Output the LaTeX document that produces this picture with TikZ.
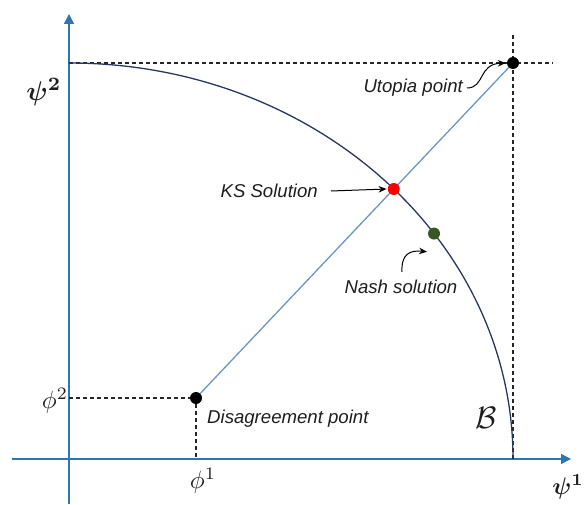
\documentclass[tikz,border=0pt]{standalone}
\usepackage{amsmath,bm,graphicx}
\usepackage{fontspec}
\setsansfont{Liberation Sans}
\usetikzlibrary{arrows.meta,intersections}
\definecolor{axisblue}{RGB}{46,117,182}
\definecolor{lineblue}{RGB}{105,150,195}
\definecolor{curvenavy}{RGB}{40,55,95}
\definecolor{nashgreen}{RGB}{56,87,35}
\definecolor{txt}{RGB}{30,30,30}
\tikzset{
  axisline/.style={draw=axisblue, line width=1.5pt, -{Triangle[length=10pt,width=10pt]}},
  dashline/.style={draw=black!85, line width=1.1pt, dash pattern=on 4pt off 3pt},
  bcurve/.style={draw=curvenavy, line width=1.3pt},
  diagline/.style={draw=lineblue, line width=1.3pt},
  dot/.style={circle, inner sep=0pt, minimum size=12pt},
  lab/.style={font=\sffamily\itshape\fontsize{18.6}{21}\selectfont, text=txt, inner sep=0pt},
  mlab/.style={text=txt, inner sep=0pt},
  pointer/.style={draw=black, line width=1pt, -{Stealth[length=8pt,width=6.5pt]}}
}
\begin{document}
\begin{tikzpicture}[x=1pt,y=1pt]
\useasboundingbox (0,0) rectangle (585,504);
% axes
\coordinate (O) at (69,45);
\coordinate (ytop) at (69,490);
\coordinate (ybot) at (69,0);
\coordinate (xleft) at (12,45);
\coordinate (xright) at (571,45);
\draw[axisline] (ybot) -- (ytop);
\draw[axisline] (xleft) -- (xright);
% key points
\coordinate (U) at (513,441);
\coordinate (D) at (196,106);
\coordinate (B2) at (69,441);
\coordinate (B1) at (513,45);
\coordinate (dtopend) at (553,441);
\coordinate (dvtop) at (513,469);
\coordinate (phi2) at (69,106);
\coordinate (phi1) at (196,45);
% dashed guide lines
\draw[dashline] (B2) -- (dtopend);
\draw[dashline] (dvtop) -- (B1);
\draw[dashline] (phi2) -- (D) -- (phi1);
% boundary curve
\draw[bcurve, name path=bnd] (B2) arc[start angle=90, end angle=0, x radius=444, y radius=396];
% diagonal line
\draw[diagline, name path=dg] (D) -- (U);
\path[name intersections={of=bnd and dg, by=KS}];
\path (O) ++(34.7:444 and 396) coordinate (N);
% dots
\node[dot, fill=black] (udot) at (U) {};
\node[dot, fill=black] (ddot) at (D) {};
\node[dot, fill=red] (ksdot) at (KS) {};
\node[dot, fill=nashgreen] (ndot) at (N) {};
% labels
\node[mlab] (psi2) at (44,412) {\scalebox{2.7}{$\bm{\psi^{2}}$}};
\node[mlab] (psi1) at (568,17) {\scalebox{2.4}{$\bm{\psi^{1}}$}};
\node[mlab] (phi2lab) at (55,103) {\scalebox{2.5}{$\phi^{2}$}};
\node[mlab] (phi1lab) at (203,23) {\scalebox{2.5}{$\phi^{1}$}};
\node[mlab] (blab) at (486,86) {\scalebox{3.1}{$\mathcal{B}$}};
\node[lab, anchor=west] (dlab) at (207,85) {Disagreement point};
\node[lab, anchor=east] (ulab) at (463,416) {Utopia point};
\node[lab, anchor=east] (kslab) at (318,313) {KS Solution};
\node[lab] (nlab) at (401,217) {Nash solution};
% pointers
\draw[pointer] ([xshift=4pt]ulab.east) .. controls (485,416) and (478,440) .. ([xshift=-1pt]udot.west);
\draw[pointer] ([xshift=13pt]kslab.east) -- ([xshift=-1pt]ksdot.west);
\draw[pointer] ([xshift=1pt,yshift=8pt]nlab.north) .. controls (401,250) and (410,254) .. ([xshift=-7pt,yshift=-12pt]ndot.south);
\end{tikzpicture}
\end{document}
